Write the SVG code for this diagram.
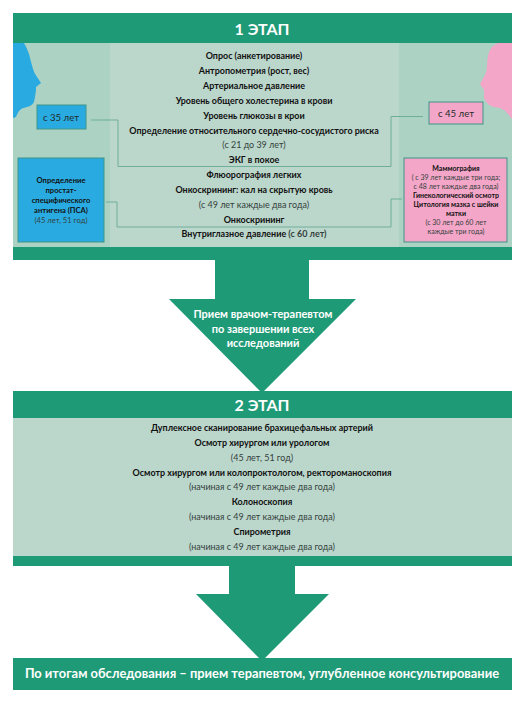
<svg xmlns="http://www.w3.org/2000/svg" width="521" height="716" viewBox="0 0 521 716">
<style>
text{font-family:Lato,Carlito,"Noto Sans",sans-serif;text-anchor:middle;fill:#1e2b28}
.b{font-weight:700;font-size:8.95px;fill:#111}
.r{font-size:8.95px;fill:#333f3c}
.w{fill:#fff;font-weight:700}
.g{fill:#1e9a76}
.c{fill:none;stroke:#6fae9b;stroke-width:1}
.s{font-size:7.6px}
.m{font-size:7px}
.box{stroke:#3f9488;stroke-width:1}
</style>
<rect width="521" height="716" fill="#fff"/>
<g id="stage1">
<rect x="13" y="13" width="499" height="247" class="g"/>
<rect x="13" y="43" width="499" height="204" fill="#abd2c3"/>
<rect x="110" y="43" width="289" height="204" fill="#bbd6cb"/>
<text x="262" y="35" class="w" font-size="16">1 ЭТАП</text>
</g>
<g id="face-m"><path d="M13 43H24Q27 48 29 54Q31 62 33 69Q34 73 37 77L41 83L36 87L36 90L35 97L34 102Q32 106 27 107Q21 108 19 111Q17 114 16 117L13 118Z" fill="#29abe2"/></g>
<g id="face-f"><path d="M512 43H498Q491 46 489 52Q487 58 487 66Q487 71 485 75L480 84L484 90L484 98Q486 103 489 105Q494 108 500 108Q505 110 508 114L512 119Z" fill="#f4a6c8"/></g>
<g id="connectors">
<path class="c" d="M91 120H118V166.500H391V116.500H423"/>
<path class="c" d="M106 202H117V227H391V199H402"/>
</g>
<g id="list1">
<text x="254" y="59" class="b">Опрос (анкетирование)</text>
<text x="254" y="74" class="b">Антропометрия (рост, вес)</text>
<text x="254" y="89" class="b">Артериальное давление</text>
<text x="254" y="104" class="b">Уровень общего холестерина в крови</text>
<text x="254" y="118.500" class="b">Уровень глюкозы в крои</text>
<text x="254" y="133.500" class="b">Определение относительного сердечно-сосудистого риска</text>
<text x="254" y="148" class="r">(с 21 до 39 лет)</text>
<text x="254" y="163" class="b">ЭКГ в покое</text>
<text x="254" y="178" class="b">Флюорография легких</text>
<text x="254" y="193" class="b">Онкоскрининг: кал на скрытую кровь</text>
<text x="254" y="207.500" class="r">(с 49 лет каждые два года)</text>
<text x="254" y="222.500" class="b">Онкоскрининг</text>
<text x="254" y="237" class="b">Внутриглазное давление <tspan class="r">(с 60 лет)</tspan></text>
</g>
<g id="age35"><rect x="37" y="105" width="49" height="24" fill="#29abe2" class="box"/><text x="61" y="121" font-size="9.600">с 35 лет</text></g>
<g id="psa"><rect x="18" y="158" width="86" height="84" fill="#29abe2" class="box"/>
<text x="61" y="183" class="b s">Определение</text>
<text x="61" y="192.500" class="b s">простат-</text>
<text x="61" y="202.500" class="b s">специфического</text>
<text x="61" y="212.500" class="b s">антигена (ПСА)</text>
<text x="61" y="222.500" class="r s">(45 лет, 51 год)</text></g>
<g id="age45"><rect x="429" y="102" width="54" height="22" fill="#f4a6c8" class="box"/><text x="456" y="117" font-size="9.600">с 45 лет</text></g>
<g id="mammo"><rect x="404" y="158" width="103" height="84" fill="#f4a6c8" class="box"/>
<text x="456" y="170.500" class="b m">Маммография</text>
<text x="456" y="179.500" class="r m">( с 39  лет каждые три года;</text>
<text x="456" y="188.500" class="r m">с 48  лет каждые два года)</text>
<text x="456" y="198" class="b m">Гинекологический осмотр</text>
<text x="456" y="207" class="b m">Цитология мазка с шейки</text>
<text x="456" y="216" class="b m">матки</text>
<text x="456" y="225" class="r m">(с 30 лет до 60  лет</text>
<text x="456" y="234" class="r m">каждые три года)</text></g>
<g id="arrow1"><path d="M215 259H309V299H356L262 393L169 299H215Z" class="g"/>
<text x="263" y="318" class="w" font-size="11">Прием врачом-терапевтом</text>
<text x="263" y="333" class="w" font-size="11">по завершении всех</text>
<text x="263" y="347" class="w" font-size="11">исследований</text></g>
<g id="stage2">
<rect x="13" y="391" width="499" height="175" class="g"/>
<rect x="13" y="418" width="499" height="138" fill="#bbd6cb"/>
<text x="262" y="411" class="w" font-size="16">2 ЭТАП</text>
<text x="262" y="431" class="b">Дуплексное сканирование брахицефальных артерий</text>
<text x="262" y="446" class="b">Осмотр хирургом или урологом</text>
<text x="262" y="461" class="r">(45 лет, 51 год)</text>
<text x="262" y="476" class="b">Осмотр хирургом или колопроктологом, ректороманоскопия</text>
<text x="262" y="490" class="r">(начиная с  49 лет каждые два года)</text>
<text x="262" y="505" class="b">Колоноскопия</text>
<text x="262" y="520" class="r">(начиная с  49 лет каждые два года)</text>
<text x="262" y="535" class="b">Спирометрия</text>
<text x="262" y="550" class="r">(начиная с  49 лет каждые два года)</text>
</g>
<g id="final"><rect x="13" y="658" width="499" height="32" class="g"/>
<text x="262" y="678" class="w" font-size="12.900">По итогам обследования – прием терапевтом, углубленное консультирование</text></g>
<g id="arrow2"><path d="M229 566H295V594H329L262 661L196 594H229Z" class="g"/></g>
</svg>
